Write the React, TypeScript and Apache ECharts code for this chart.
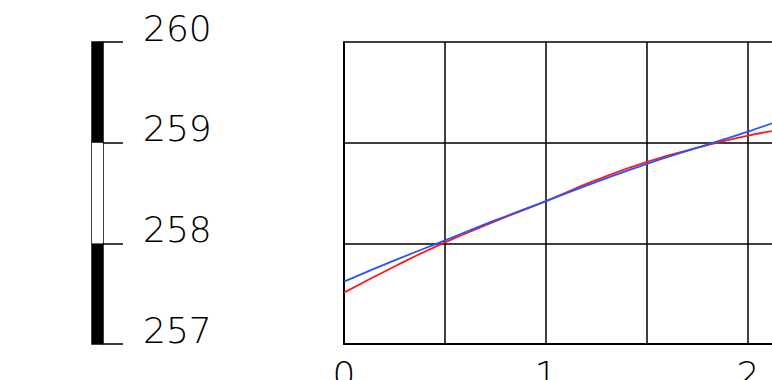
import React, { useEffect, useRef } from "react";
import * as echarts from "echarts";

const xValues = [0, 0.25, 0.5, 0.75, 1, 1.25, 1.5, 1.75, 2, 2.2];
const redValues = [257.51, 257.77, 258.01, 258.22, 258.42, 258.63, 258.81, 258.95, 259.07, 259.14];
const blueValues = [257.62, 257.83, 258.03, 258.23, 258.42, 258.61, 258.79, 258.95, 259.11, 259.25];
const yTicks = [257, 258, 259, 260];

const FONT = "'DejaVu Sans', sans-serif";

export default function App() {
  const ref = useRef<HTMLDivElement>(null);
  useEffect(() => {
    if (!ref.current) return;
    const chart = echarts.init(ref.current, undefined, { renderer: "svg" });
    const yMin = yTicks[0];
    const yMax = yTicks[yTicks.length - 1];
    chart.setOption({
      animation: false,
      backgroundColor: "#fff",
      grid: [
        {
          left: 344,
          top: 42,
          width: 606,
          height: 302,
          containLabel: false,
          outerBoundsMode: "none",
        },
        {
          left: 92,
          top: 42,
          width: 11,
          height: 302,
          show: true,
          borderColor: "#000",
          borderWidth: 1.5,
          backgroundColor: "transparent",
          containLabel: false,
          outerBoundsMode: "none",
        },
        {
          left: 103,
          top: 42,
          width: 20,
          height: 302,
          containLabel: false,
          outerBoundsMode: "none",
        },
      ],
      xAxis: [
        {
          gridIndex: 0,
          type: "value",
          min: 0,
          max: 3,
          interval: 0.5,
          axisLine: { show: true, lineStyle: { color: "#000", width: 2 } },
          axisTick: { show: false },
          splitLine: { show: true, lineStyle: { color: "#000", width: 1.5 } },
          axisLabel: {
            margin: 12,
            fontSize: 36,
            fontFamily: FONT,
            fontWeight: 200,
            color: "#000",
            formatter: (v: number) => (Number.isInteger(v) ? String(v) : ""),
          },
        },
        { gridIndex: 1, type: "value", min: 0, max: 1, show: false },
        { gridIndex: 2, type: "value", min: 0, max: 1, show: false },
      ],
      yAxis: [
        {
          gridIndex: 0,
          type: "value",
          min: yMin,
          max: yMax,
          interval: 1,
          axisLine: { show: true, lineStyle: { color: "#000", width: 2 } },
          axisTick: { show: false },
          axisLabel: { show: false },
          splitLine: { show: true, lineStyle: { color: "#000", width: 1.5 } },
        },
        {
          gridIndex: 1,
          type: "value",
          min: yMin,
          max: yMax,
          interval: 1,
          position: "right",
          axisLine: { show: false },
          axisTick: { show: false },
          splitLine: { show: false },
          splitArea: { show: true, areaStyle: { color: ["#000", "#fff"] } },
          axisLabel: {
            margin: 40,
            fontSize: 36,
            fontFamily: FONT,
            fontWeight: 200,
            color: "#000",
            verticalAlign: "bottom",
            lineHeight: 28,
          },
        },
        {
          gridIndex: 2,
          type: "value",
          min: yMin,
          max: yMax,
          interval: 1,
          axisLine: { show: false },
          axisTick: { show: false },
          axisLabel: { show: false },
          splitLine: { show: true, lineStyle: { color: "#000", width: 1.5 } },
        },
      ],
      series: [
        {
          type: "line",
          xAxisIndex: 0,
          yAxisIndex: 0,
          data: xValues.map((x, i) => [x, redValues[i]]),
          showSymbol: false,
          smooth: true,
          lineStyle: { color: "#ff1a1a", width: 1.8 },
          z: 3,
        },
        {
          type: "line",
          xAxisIndex: 0,
          yAxisIndex: 0,
          data: xValues.map((x, i) => [x, blueValues[i]]),
          showSymbol: false,
          smooth: true,
          lineStyle: { color: "#2255ff", width: 1.8 },
          z: 4,
        },
      ],
    });
    return () => chart.dispose();
  }, []);
  return (
    <div
      style={{
        position: "fixed",
        left: 0,
        top: 0,
        width: 772,
        height: 380,
        overflow: "hidden",
        background: "#fff",
      }}
    >
      <div ref={ref} style={{ width: 1100, height: 380 }} />
    </div>
  );
}
